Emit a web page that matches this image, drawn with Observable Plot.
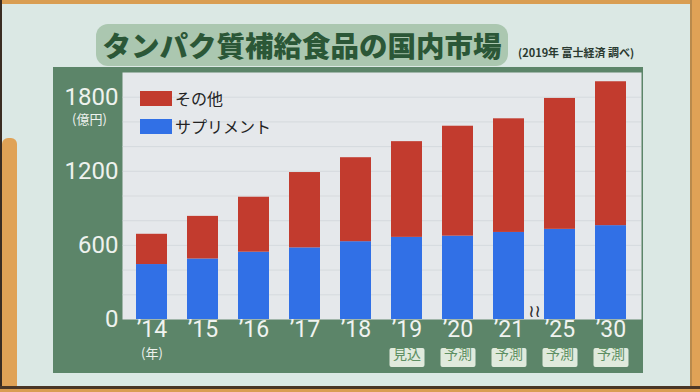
<!DOCTYPE html>
<html><head><meta charset="utf-8">
<script src="https://cdn.jsdelivr.net/npm/d3@7"></script>
<script src="https://cdn.jsdelivr.net/npm/@observablehq/plot@0.6"></script>
<style>
html,body{margin:0;padding:0;}
body{width:700px;height:392px;overflow:hidden;background:#dbe8e4;font-family:"Noto Sans CJK JP","Noto Sans",sans-serif;}
#wrap{position:relative;width:700px;height:392px;overflow:hidden;}
.abs{position:absolute;}
#chart{position:absolute;left:0;top:0;}
</style></head><body><div id="wrap">
<div class="abs" style="left:0;top:0;width:700px;height:4px;background:#d99d52"></div>
<div class="abs" style="left:0;top:0;width:2px;height:392px;background:#3a2c22"></div>
<div class="abs" style="left:2px;top:138px;width:15px;height:260px;background:#e0a256;border-radius:6px 6px 0 0"></div>
<div class="abs" style="left:690px;top:0;width:2px;height:392px;background:#b98a4c"></div>
<div class="abs" style="left:692px;top:0;width:8px;height:392px;background:#e0a256"></div>
<div class="abs" style="left:0;top:386px;width:700px;height:3px;background:#4a3626"></div>
<div class="abs" style="left:0;top:389px;width:700px;height:3px;background:#d99d52"></div>
<div class="abs" style="left:53px;top:67px;width:590px;height:306px;background:#5c8569"></div>
<div id="title" class="abs" style="left:96px;top:24px;width:412px;height:42px;background:#abc7b0;border-radius:12px;text-align:center;line-height:42px;font-size:28.5px;font-weight:900;color:#2b5737;white-space:nowrap"></div>
<div id="source" class="abs" style="left:518px;top:44px;font-size:11px;font-weight:700;color:#2a3a30;white-space:nowrap"></div>
<div id="chart"></div>
<div id="legend"></div>
</div>
<script>
const years = ["14","15","16","17","18","19","20","21","25","30"];
const supplement = [445,490,545,580,630,665,675,705,730,760];
const other = [245,345,445,610,680,775,890,920,1060,1165];
const seriesNames = ["サプリメント","その他"];
const seriesColors = ["#3170e6","#c23b2e"];
const legendOrder = ["その他","サプリメント"];
const badges = ["","","","","","見込","予測","予測","予測","予測"];
const yTicks = [0,600,1200,1800];
const titleText = "タンパク質補給食品の国内市場";
const sourceText = "(2019年 富士経済 調べ)";
const yUnit = "(億円)";
const xUnit = "(年)";
const breakMark = "≀≀";

document.getElementById("title").textContent = titleText;
document.getElementById("source").textContent = sourceText;

const rows = years.flatMap((y,i)=>[
  {year:y, series:seriesNames[0], value:supplement[i]},
  {year:y, series:seriesNames[1], value:other[i]}
]);
const badgeRows = years.map((y,i)=>({year:y,label:badges[i]})).filter(d=>d.label);

const badgeSymbol = {draw(ctx){
  const w=35,h=19,r=2,x=-w/2,y=-h/2;
  ctx.moveTo(x+r,y);
  ctx.arcTo(x+w,y,x+w,y+h,r);
  ctx.arcTo(x+w,y+h,x,y+h,r);
  ctx.arcTo(x,y+h,x,y,r);
  ctx.arcTo(x,y,x+w,y,r);
  ctx.closePath();
}};

const font = '"Noto Sans CJK JP","Noto Sans",sans-serif';
const numFont = 'Roboto,"Noto Sans",sans-serif';
const chart = Plot.plot({
  width:700, height:392,
  marginLeft:122, marginRight:59, marginTop:72, marginBottom:73,
  style:{background:"transparent", fontFamily:font, overflow:"visible"},
  x:{domain:years, paddingInner:0.39, paddingOuter:0.28, label:null},
  y:{domain:[0,2000], label:null},
  color:{domain:seriesNames, range:seriesColors},
  marks:[
    Plot.frame({fill:"#e5e8eb", stroke:null}),
    Plot.gridY({ticks:d3.range(200,2000,200), stroke:"#c3c9ce", strokeOpacity:0.45}),
    Plot.barY(rows, {x:"year", y:"value", fill:"series", order:seriesNames, inset:0}),
    Plot.axisY({ticks:yTicks, tickSize:0, tickPadding:4, fill:"#eef2ee", fontSize:24, fontFamily:numFont, tickFormat:d=>String(d), label:null}),
    Plot.text([yUnit], {y:[yTicks[3]], frameAnchor:"left", dx:-33, dy:23, fill:"#eef2ee", fontSize:13, textAnchor:"middle"}),
    Plot.axisX({tickSize:0, tickPadding:1, fill:"#f0f3f0", fontSize:23, fontFamily:numFont, tickFormat:d=>"’"+d, label:null}),
    Plot.text([xUnit], {x:[years[0]], frameAnchor:"bottom", dy:38, fill:"#eef2ee", fontSize:13}),
    Plot.dot(badgeRows, {x:"year", frameAnchor:"bottom", dy:38, symbol:badgeSymbol, r:5, fill:"#e0eadd", stroke:null}),
    Plot.text(badgeRows, {x:"year", text:"label", frameAnchor:"bottom", dy:39, fill:"#5e9063", fontSize:14}),
    Plot.text([breakMark], {x:[years[7]], dx:25.5, frameAnchor:"bottom", dy:-3, fill:"#2a2a2a", fontSize:17, fontFamily:'"DejaVu Sans",sans-serif'})
  ]
});
document.getElementById("chart").appendChild(chart);

const legend = document.getElementById("legend");
legendOrder.forEach((name,i)=>{
  const c = seriesColors[seriesNames.indexOf(name)];
  const sw = document.createElement("div");
  sw.className="abs";
  sw.style.cssText = `left:140px;top:${91+i*28}px;width:32px;height:15px;background:${c}`;
  legend.appendChild(sw);
  const t = document.createElement("div");
  t.className="abs";
  t.style.cssText = `left:175px;top:${88+i*28}px;font-size:16px;line-height:21px;color:#222;white-space:nowrap`;
  t.textContent = name;
  legend.appendChild(t);
});
</script>
</body></html>
